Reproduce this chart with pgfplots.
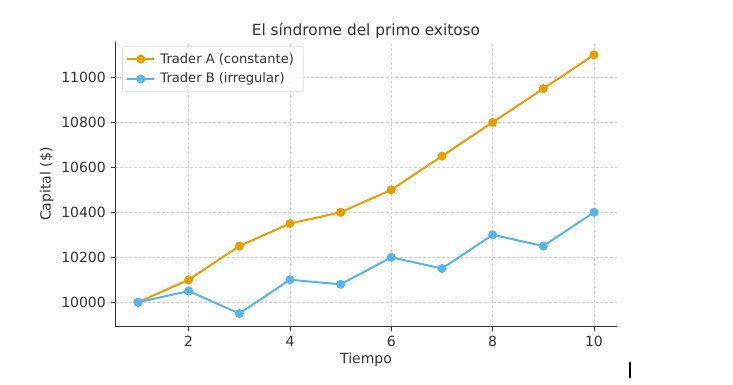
\documentclass[border=0pt]{standalone}
\usepackage{pgfplots}
\pgfplotsset{compat=1.18}
\usepackage{fontspec}
\setmainfont{DejaVu Sans}
\definecolor{trA}{RGB}{230,159,0}
\definecolor{trB}{RGB}{86,180,233}
\definecolor{txt}{RGB}{51,51,51}
\definecolor{gridc}{RGB}{210,210,210}
\begin{document}
\begin{tikzpicture}
\path[use as bounding box] (0,0) rectangle (549.75pt,288.75pt);
\begin{axis}[
  at={(86.4pt,43.9pt)}, anchor=south west,
  scale only axis, width=376.2pt, height=213.4pt,
  xmin=0.55, xmax=10.45, ymin=9892.5, ymax=11157.5,
  axis x line*=bottom, axis y line*=left,
  axis line style={black!80, line width=0.6pt},
  xtick={2,4,6,8,10},
  ytick={10000,10200,10400,10600,10800,11000},
  tick align=outside, major tick length=3.5pt,
  tick style={black!80, line width=0.6pt},
  scaled y ticks=false,
  /pgf/number format/.cd, 1000 sep={}, assume math mode=true, /pgfplots/.cd,
  ticklabel style={font=\fontsize{10.5}{12}\selectfont, text=txt},
  grid=major,
  major grid style={gridc, dash pattern=on 2pt off 1.5pt, line width=0.5pt},
  xlabel={Tiempo}, ylabel={Capital (\$)},
  label style={font=\fontsize{10.5}{12}\selectfont, text=txt},
  xlabel style={yshift=2pt},
  ylabel style={yshift=-1pt},
  title={El síndrome del primo exitoso},
  title style={font=\fontsize{11.5}{13}\selectfont, text=txt, yshift=-7pt},
  legend style={font=\fontsize{9.8}{12}\selectfont, text=txt, draw=black!15, rounded corners=2pt, fill=white, fill opacity=0.8, text opacity=1, at={(0.014,0.985)}, anchor=north west, row sep=2pt, inner xsep=3pt, inner ysep=3pt, nodes={inner xsep=4pt}},
  legend cell align=left,
  legend image code/.code={\draw[#1] (0pt,0pt) -- (20pt,0pt); \draw[#1, mark repeat=1] plot coordinates {(10pt,0pt)};},
]
\addplot[color=trA, line width=1.5pt, mark=*, mark size=2.6pt, mark options={solid}] coordinates {
(1,10000) (2,10100) (3,10250) (4,10350) (5,10400) (6,10500) (7,10650) (8,10800) (9,10950) (10,11100)};
\addlegendentry{Trader A (constante)}
\addplot[color=trB, line width=1.5pt, mark=*, mark size=2.6pt, mark options={solid}] coordinates {
(1,10000) (2,10050) (3,9950) (4,10100) (5,10080) (6,10200) (7,10150) (8,10300) (9,10250) (10,10400)};
\addlegendentry{Trader B (irregular)}
\end{axis}
\draw[black, line width=1.5pt] (472.5pt,5.25pt) -- (472.5pt,17.25pt);
\end{tikzpicture}
\end{document}
